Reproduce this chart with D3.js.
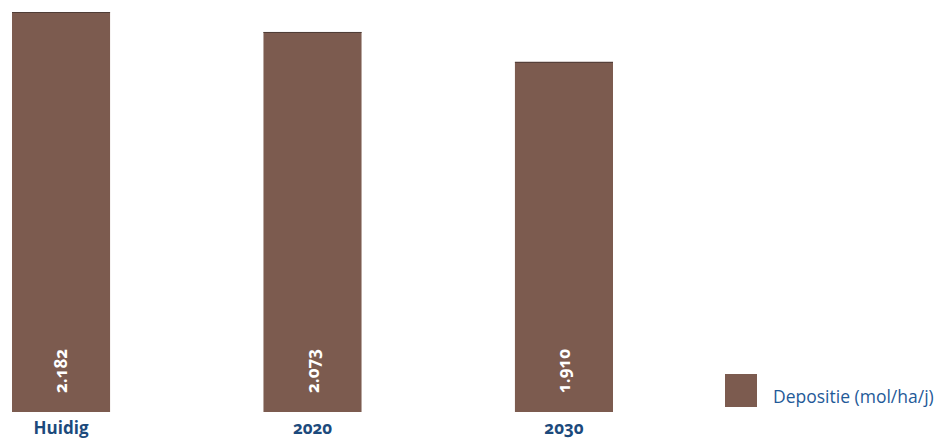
<!DOCTYPE html>
<html>
<head>
<meta charset="utf-8">
<script src="https://cdn.jsdelivr.net/npm/d3@7"></script>
<style>
  html, body { margin: 0; padding: 0; background: #fff; }
  svg { display: block; }
</style>
</head>
<body>
<svg id="chart" width="952" height="440"></svg>
<script>
// Stikstofdepositie per scenario
const categories = ["Huidig", "2020", "2030"];
const values = [2182, 2073, 1910];
const seriesName = "Depositie (mol/ha/j)";

const W = 952, H = 440;
const barColor = "#7c5b4f";
const labelBlue = "#1c4a7c";
const legendBlue = "#1f5a98";

const nl = d3.formatLocale({ decimal: ",", thousands: ".", grouping: [3], currency: ["€", ""] });
const fmt = nl.format(",d");

const svg = d3.select("#chart");

const x = d3.scaleBand()
  .domain(categories)
  .range([12, 613])
  .paddingInner(0.61)
  .paddingOuter(0);

const y = d3.scaleLinear()
  .domain([0, 2182])
  .range([412, 12]);

const bars = svg.append("g");

bars.selectAll("rect.bar")
  .data(values)
  .join("rect")
  .attr("class", "bar")
  .attr("x", (d, i) => x(categories[i]))
  .attr("y", d => y(d))
  .attr("width", x.bandwidth())
  .attr("height", d => y(0) - y(d))
  .attr("fill", barColor);

// thin darker edge along the top of each bar
bars.selectAll("line.cap")
  .data(values)
  .join("line")
  .attr("class", "cap")
  .attr("x1", (d, i) => x(categories[i]))
  .attr("x2", (d, i) => x(categories[i]) + x.bandwidth())
  .attr("y1", d => y(d) + 0.5)
  .attr("y2", d => y(d) + 0.5)
  .attr("stroke", "#4f3d37")
  .attr("stroke-width", 1);

// value labels, rotated, inside the bar base
bars.selectAll("text.val")
  .data(values)
  .join("text")
  .attr("class", "val")
  .attr("transform", (d, i) => `translate(${x(categories[i]) + x.bandwidth() / 2 + 6},${y(0) - 19}) rotate(-90)`)
  .attr("text-anchor", "start")
  .attr("fill", "#ffffff")
  .attr("font-family", "'Open Sans', sans-serif")
  .attr("font-weight", "bold")
  .attr("font-size", "17px")
  .style("font-variant-numeric", "oldstyle-nums")
  .text(d => fmt(d));

// category axis labels
const xAxis = d3.axisBottom(x).tickSize(0).tickPadding(0);
const gx = svg.append("g")
  .attr("transform", `translate(0,${y(0)})`)
  .call(xAxis);
gx.select(".domain").remove();
gx.selectAll("text")
  .attr("y", 22)
  .attr("dy", 0)
  .attr("fill", labelBlue)
  .attr("font-family", "'Open Sans', sans-serif")
  .attr("font-weight", "bold")
  .attr("font-size", "17px")
  .style("font-variant-numeric", "oldstyle-nums");

// legend
const legend = svg.append("g").attr("transform", "translate(725,374)");
legend.append("rect")
  .attr("width", 32)
  .attr("height", 33)
  .attr("fill", barColor);
legend.append("text")
  .attr("x", 48)
  .attr("y", 29)
  .attr("fill", legendBlue)
  .attr("font-family", "'Open Sans', sans-serif")
  .attr("font-size", "17.5px")
  .text(seriesName);
</script>
</body>
</html>
